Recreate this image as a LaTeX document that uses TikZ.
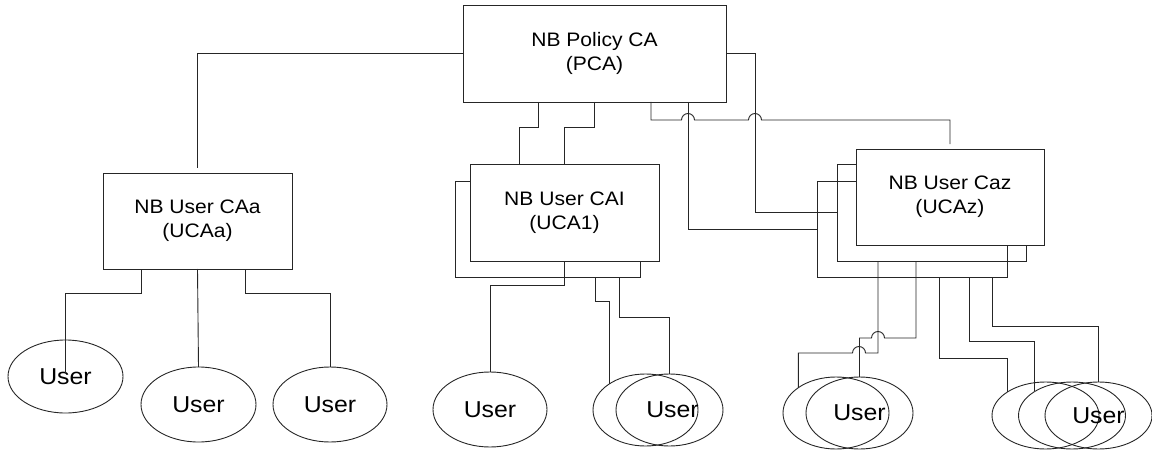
\documentclass[tikz,border=0pt]{standalone}
\usepackage{fontspec}
\usetikzlibrary{shapes.geometric}
\setmainfont{Liberation Sans}[FakeStretch=1.08]
\begin{document}
\begin{tikzpicture}[x=1pt,y=-1pt,
  line width=0.9pt,
  conn/.style={draw=black!85, line width=0.9pt},
  cabox/.style={draw=black!85, line width=0.9pt, inner sep=0pt, outer sep=0pt,
    align=center, font=\fontsize{19.5}{24}\selectfont},
  frontbox/.style={cabox, fill=white},
  backbox/.style={draw=black!85, line width=0.9pt, inner sep=0pt, outer sep=0pt},
  userell/.style={ellipse, draw=black!85, line width=0.9pt, inner sep=0pt, outer sep=0pt,
    font=\fontsize{23}{26}\selectfont},
]
\useasboundingbox (0,0) rectangle (1152,452);

% back boxes
\node[backbox, minimum width=185pt, minimum height=96pt] (uca1b) at (547.5,229) {};
\node[backbox, minimum width=190pt, minimum height=96pt] (ucaz3) at (912,229) {};
\node[backbox, minimum width=189pt, minimum height=97pt] (ucaz2) at (931.5,212.5) {};

% front boxes
\node[frontbox, minimum width=263pt, minimum height=97pt] (pca) at (594.5,53.5) {NB Policy CA\\(PCA)};
\node[frontbox, minimum width=189pt, minimum height=96pt] (ucaa) at (197.5,221) {NB User CAa\\(UCAa)};
\node[frontbox, minimum width=189pt, minimum height=97pt] (uca1) at (564.5,212.5) {NB User CAI\\(UCA1)};
\node[frontbox, minimum width=188pt, minimum height=96pt] (ucaz) at (950,197) {NB User Caz\\(UCAz)};

% users
\node[userell, minimum width=115pt, minimum height=73pt] (u1) at (65.5,376.5) {User};
\node[userell, minimum width=115pt, minimum height=75pt] (u2) at (198.5,404.5) {User};
\node[userell, minimum width=114pt, minimum height=75pt] (u3) at (330,404.5) {User};
\node[userell, minimum width=114pt, minimum height=75pt] (u4) at (490,409.5) {User};
\node[userell, minimum width=105pt, minimum height=72pt] (u5b) at (645.5,410) {};
\node[userell, minimum width=107pt, minimum height=72pt] (u5) at (669.5,410) {\hspace*{6pt}User};
\node[userell, minimum width=106pt, minimum height=72pt] (u6b) at (836,413) {};
\node[userell, minimum width=107pt, minimum height=72pt] (u6) at (859.5,413) {User};
\node[userell, minimum width=107pt, minimum height=67pt] (u7c) at (1045.5,415.5) {};
\node[userell, minimum width=107pt, minimum height=67pt] (u7b) at (1072,415.5) {};
\node[userell, minimum width=107pt, minimum height=67pt] (u7) at (1098.5,415.5) {User};

% PCA connectors
\draw[conn, shorten >=5pt] (pca.west) -| (ucaa.north);
\draw[conn] ([xshift=75pt]pca.south west) -- ++(0,25) -| ([xshift=49pt]uca1.north west);
\draw[conn] ([xshift=131pt]pca.south west) -- ++(0,25) -| (uca1.north);
\draw[conn] (pca.east) -- ++(29,0) |- (ucaz2.west);
\draw[conn] ([xshift=225pt]pca.south west) |- (ucaz3.west);
\draw[conn, shorten >=5pt] ([xshift=188pt]pca.south west) |- (681.5,120)
   arc[start angle=180, end angle=0, radius=6.5pt] -- (748.5,120)
   arc[start angle=180, end angle=0, radius=6.5pt] -| (ucaz.north);

% UCAa connectors
\draw[conn] ([xshift=38pt]ucaa.south west) -- ++(0,24) -| ([yshift=4pt]u1.center);
\draw[conn] (ucaa.south) -- (u2.north);
\draw[conn] ([xshift=142pt]ucaa.south west) -- ++(0,24) -| (u3.north);

% UCA1 connectors
\draw[conn] (uca1.south) -- ++(0,24) -| (u4.north);
\draw[conn] ([xshift=140pt]uca1b.south west) -- ++(0,24) -| (u5b.144.5);
\draw[conn] ([xshift=164pt]uca1b.south west) -- ++(0,40) -| (u5.north);

% UCAz connectors
\draw[conn] ([xshift=41pt]ucaz2.south west) -- (878,353) -- (865.5,353)
   arc[start angle=0, end angle=180, radius=6.5pt] -| (u6b.146);
\draw[conn] ([xshift=79pt]ucaz2.south west) -- (916,338) -- (884.5,338)
   arc[start angle=0, end angle=180, radius=6.5pt] -| (u6.north);
\draw[conn] ([xshift=122pt]ucaz3.south west) -- ++(0,81) -| (u7c.148.6);
\draw[conn] ([xshift=152pt]ucaz3.south west) -- ++(0,64) -| (u7b.147.6);
\draw[conn] ([xshift=175pt]ucaz3.south west) -- ++(0,49) -| (u7.north);
\end{tikzpicture}
\end{document}
